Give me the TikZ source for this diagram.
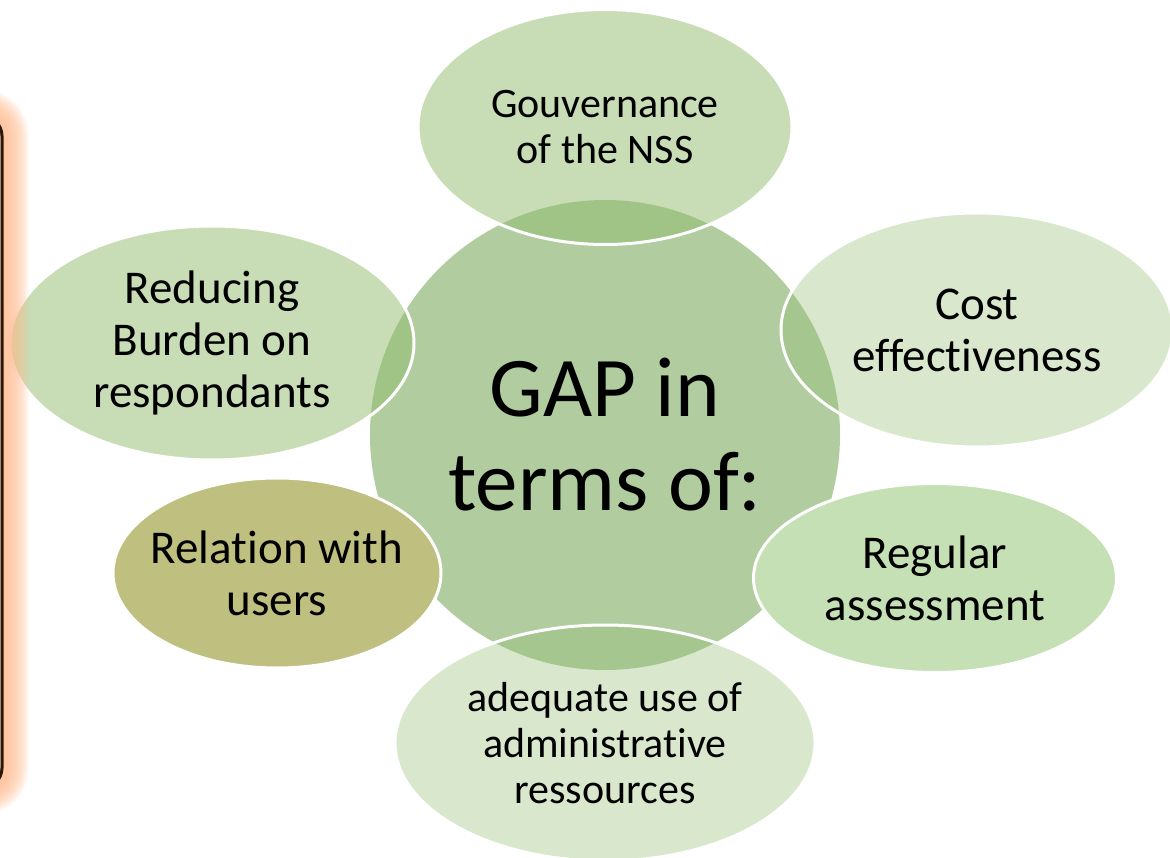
\documentclass[tikz,border=0pt]{standalone}
\usepackage{fontspec}
\setmainfont{Carlito}[Ligatures={NoCommon,NoRare,NoContextual}]
\usetikzlibrary{shapes.geometric}

\definecolor{gapcore}{RGB}{177,205,160}
\definecolor{gapbase}{RGB}{145,187,110}
\definecolor{gapmint}{RGB}{197,224,180}
\definecolor{gapolive}{RGB}{191,191,127}
\definecolor{glowedge}{RGB}{255,185,140}
\definecolor{frameline}{RGB}{40,24,16}

\begin{document}
\begin{tikzpicture}[x=1pt,y=-1pt,
            every node/.style={ellipse,align=center,inner sep=-15pt},
            core node/.style={fill=gapcore,minimum size=470pt,font=\fontsize{85}{94}\selectfont},
            outer node/.style={draw=white,line width=3pt,text opacity=1},
            big text/.style={font=\fontsize{47}{52}\selectfont},
            small text/.style={font=\fontsize{42}{46}\selectfont}
        ]
        \useasboundingbox (0,0) rectangle (1170,858);
        \clip (0,0) rectangle (1170,858);

        \node [core node] (gap) at (605,435) {GAP in\\ terms of:};

        \node [outer node,small text,fill=gapbase,fill opacity=0.5,minimum width=374pt,minimum height=235pt] (governance) at (605,127) {Gouvernance\\ of the NSS};
        \node [outer node,big text,fill=gapbase,fill opacity=0.35,minimum width=392pt,minimum height=234pt] (cost) at (977,330) {Cost\\ effectiveness};
        \node [outer node,big text,fill=gapmint,minimum width=363pt,minimum height=189pt] (assessment) at (935,578) {Regular\\ assessment};
        \node [outer node,small text,fill=gapbase,fill opacity=0.35,minimum width=420pt,minimum height=236pt] (resources) at (605,743) {adequate use of\\ administrative\\ ressources};
        \node [outer node,big text,fill=gapolive,minimum width=328pt,minimum height=190pt] (users) at (277,573) {Relation with\\ users};
        \node [outer node,big text,fill=gapbase,fill opacity=0.5,minimum width=404pt,minimum height=234pt] (burden) at (212,343) {Reducing\\ Burden on\\ respondants};

        % glowing frame at the left border
        \foreach \w in {2,4,...,54}
            \draw [glowedge,line width=\w pt,opacity=0.065,rounded corners=20pt] (-300,116) rectangle (2,788);
        \draw [frameline,line width=3pt,rounded corners=20pt] (-300,116) rectangle (2,788);
    \end{tikzpicture}
\end{document}
